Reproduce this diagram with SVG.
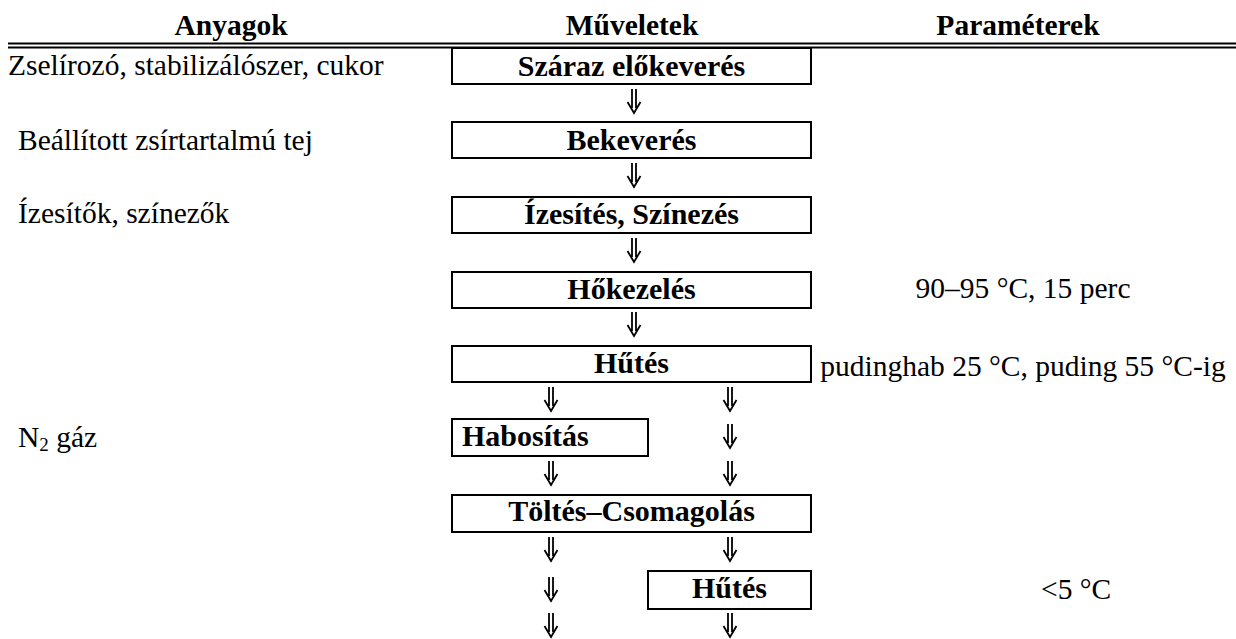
<svg xmlns="http://www.w3.org/2000/svg" width="1236" height="639" viewBox="0 0 1236 639">
<defs>
<style>
text{font-family:"Liberation Serif","Times New Roman",serif;fill:#000}
.h{font-weight:bold;font-size:29.5px;text-anchor:middle}
.b{font-size:29.5px}
.p{font-size:29.5px;text-anchor:middle}
.bx{fill:#fff;stroke:#000;stroke-width:2}
.bt{font-weight:bold;font-size:30px;text-anchor:middle}
.rule{stroke:#000;stroke-width:1.8}
</style>
<path id="dar" d="M-2,0 V19 M2,0 V19 M-6.5,13 L0,24 L6.5,13" fill="none" stroke="#000" stroke-width="1.8"/>
</defs>
<g id="header">
<text class="h" x="231" y="35">Anyagok</text>
<text class="h" x="632" y="35">Műveletek</text>
<text class="h" x="1018" y="35">Paraméterek</text>
<line class="rule" x1="8" y1="43.5" x2="1236" y2="43.5"/>
<line class="rule" x1="8" y1="47.5" x2="1236" y2="47.5"/>
</g>
<g id="anyagok">
<text class="b" x="8" y="75">Zselírozó, stabilizálószer, cukor</text>
<text class="b" x="18" y="150">Beállított zsírtartalmú tej</text>
<text class="b" x="18" y="223">Ízesítők, színezők</text>
<text class="b" x="18" y="447">N<tspan font-size="19" dy="4">2</tspan><tspan dy="-4"> gáz</tspan></text>
</g>
<g id="parameterek">
<text class="p" x="1023" y="298">90–95 °C, 15 perc</text>
<text class="p" x="1023" y="376">pudinghab 25 °C, puding 55 °C-ig</text>
<text class="b" x="1041" y="599">&lt;5 °C</text>
</g>
<g id="n1"><rect class="bx" x="452" y="48" width="359" height="36"/><text class="bt" x="631.5" y="76">Száraz előkeverés</text></g>
<g id="n2"><rect class="bx" x="452" y="122" width="359" height="36"/><text class="bt" x="631.5" y="150">Bekeverés</text></g>
<g id="n3"><rect class="bx" x="452" y="197" width="359" height="36"/><text class="bt" x="631.5" y="224">Ízesítés, Színezés</text></g>
<g id="n4"><rect class="bx" x="452" y="272" width="359" height="36"/><text class="bt" x="631.5" y="299">Hőkezelés</text></g>
<g id="n5"><rect class="bx" x="452" y="346" width="359" height="36"/><text class="bt" x="631.5" y="373">Hűtés</text></g>
<g id="n6"><rect class="bx" x="452" y="419" width="196" height="37"/><text class="bt" x="462" y="446" style="text-anchor:start">Habosítás</text></g>
<g id="n7"><rect class="bx" x="452" y="495" width="359" height="37"/><text class="bt" x="631.5" y="521">Töltés–Csomagolás</text></g>
<g id="n8"><rect class="bx" x="648" y="571" width="163" height="38"/><text class="bt" x="729.5" y="598">Hűtés</text></g>
<g id="connectors">
<use href="#dar" x="634" y="89"/>
<use href="#dar" x="634" y="163"/>
<use href="#dar" x="634" y="238"/>
<use href="#dar" x="634" y="312"/>
<use href="#dar" x="551" y="387"/>
<use href="#dar" x="730" y="387"/>
<use href="#dar" x="730" y="424"/>
<use href="#dar" x="551" y="461"/>
<use href="#dar" x="730" y="461"/>
<use href="#dar" x="551" y="537"/>
<use href="#dar" x="730" y="537"/>
<use href="#dar" x="551" y="577"/>
<use href="#dar" x="551" y="613"/>
<use href="#dar" x="730" y="613"/>
</g>
</svg>
